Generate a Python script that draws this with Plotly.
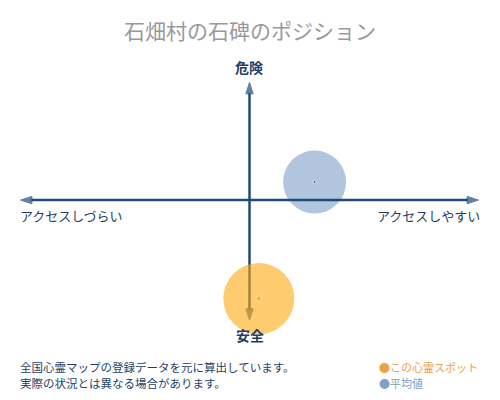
import plotly.graph_objects as go

# values
spot_labels = ["この心霊スポット", "平均値"]
spot_x = [0.04, 0.28]
spot_y = [-0.82, 0.15]
spot_size = [71, 63]

title = "石畑村の石碑のポジション"
axis_left, axis_right = "アクセスしづらい", "アクセスしやすい"
axis_top, axis_bottom = "危険", "安全"
notes = ["全国心霊マップの登録データを元に算出しています。",
         "実際の状況とは異なる場合があります。"]

FONT = "Noto Sans CJK JP"
NAVY = "#1f4a7a"
TEXT = "#1f3f66"

fig = go.Figure()

def axis_arrow(xs, ys):
    # line from the origin with an arrowhead at the far end
    fig.add_trace(go.Scatter(
        x=xs, y=ys, mode="lines+markers", cliponaxis=False,
        line=dict(color=NAVY, width=2.5),
        marker=dict(symbol="arrow", angleref="previous", size=[0, 12], color=NAVY,
                    line=dict(color=NAVY, width=1)),
        hoverinfo="skip", showlegend=False))

# vertical axis goes under the orange circle
axis_arrow([0, 0], [0, 0.98])
axis_arrow([0, 0], [0, -1.0])

fig.add_trace(go.Scatter(
    x=[spot_x[0]], y=[spot_y[0]], mode="markers", cliponaxis=False,
    marker=dict(size=spot_size[0], color="rgba(253,168,13,0.6)", line=dict(width=0)),
    name=spot_labels[0], showlegend=False))
fig.add_trace(go.Scatter(
    x=[spot_x[1]], y=[spot_y[1]], mode="markers", cliponaxis=False,
    marker=dict(size=spot_size[1], color="rgba(100,140,190,0.5)", line=dict(width=0)),
    name=spot_labels[1], showlegend=False))

# centre dots
fig.add_trace(go.Scatter(
    x=spot_x, y=spot_y, mode="markers", cliponaxis=False,
    marker=dict(size=[5, 3], color=["#f5a623", "#222222"], symbol=["diamond", "circle"]),
    hoverinfo="skip", showlegend=False))

# horizontal axis sits over the blue circle
axis_arrow([0, 0.985], [0, 0])
axis_arrow([0, -0.985], [0, 0])

# text positions given in screen pixels (page is offset by the 8px body margin)
ann = [
    dict(text=title, x=250, y=30, font=dict(size=21, color="#999999")),
    dict(text="<b>" + axis_top + "</b>", x=249, y=67, font=dict(size=14, color=TEXT)),
    dict(text="<b>" + axis_bottom + "</b>", x=250, y=335, font=dict(size=14, color=TEXT)),
    dict(text=axis_left, x=18, y=215, xanchor="left", font=dict(size=13, color=TEXT)),
    dict(text=axis_right, x=482, y=215, xanchor="right", font=dict(size=13, color=TEXT)),
    dict(text=notes[0], x=18, y=367, xanchor="left", font=dict(size=11.5, color=TEXT)),
    dict(text=notes[1], x=18, y=383, xanchor="left", font=dict(size=11.5, color=TEXT)),
    dict(text="<span style='color:#f0a040'>●</span>" + spot_labels[0], x=377, y=367,
         xanchor="left", font=dict(size=11, color="#e8a050")),
    dict(text="<span style='color:#7fa2c8'>●</span>" + spot_labels[1], x=377, y=383,
         xanchor="left", font=dict(size=11, color="#7f9cc0")),
]
for a in ann:
    a.setdefault("xanchor", "center")
    fig.add_annotation(xref="paper", yref="paper",
                       x=(a["x"] - 17) / 465, y=(325 - a["y"]) / 245,
                       text=a["text"], xanchor=a["xanchor"], yanchor="middle",
                       showarrow=False, font=dict(family=FONT, **a["font"]))

fig.update_xaxes(range=[-1, 1], visible=False, fixedrange=True)
fig.update_yaxes(range=[-1.04, 1.0], visible=False, fixedrange=True)
fig.update_layout(
    width=500, height=400,
    margin=dict(l=9, r=26, t=72, b=83),
    paper_bgcolor="white", plot_bgcolor="white",
    font=dict(family=FONT),
)

fig.write_html("out.html")
